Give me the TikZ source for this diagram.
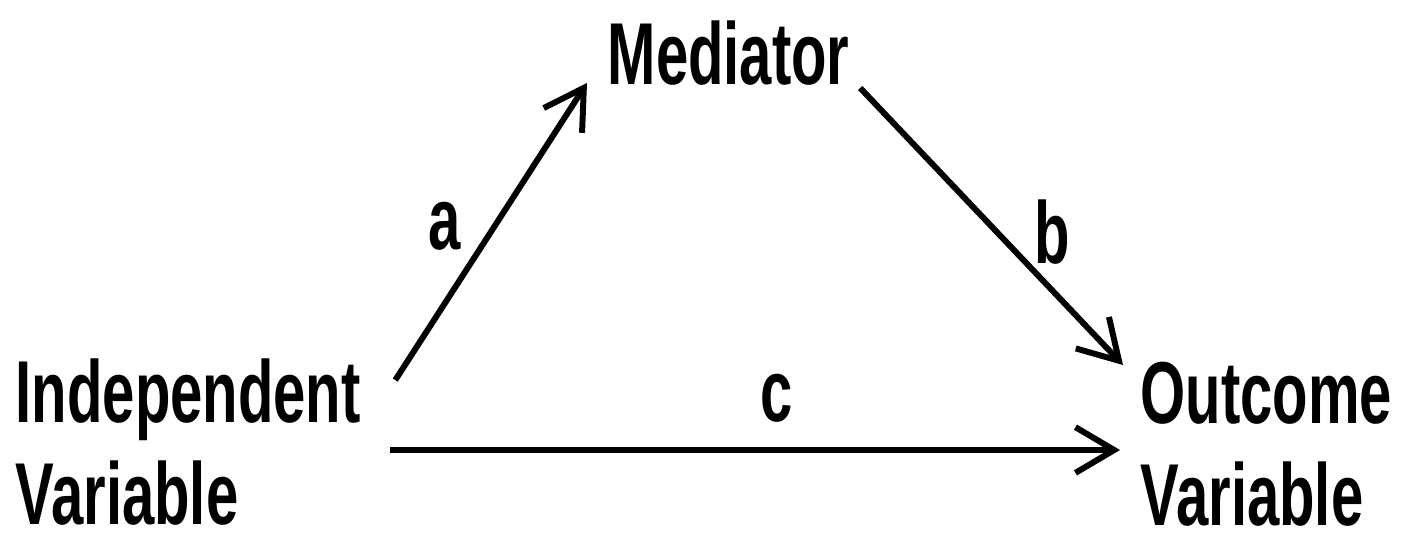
\documentclass[tikz,border=0pt]{standalone}
\usepackage{fontspec}
\newfontfamily\diagfont[FakeStretch=0.66]{Liberation Sans Bold}
\usetikzlibrary{arrows.meta,calc}

\begin{document}
\begin{tikzpicture}[x=0.01cm,y=-0.01cm,
    >={Straight Barb[length=11pt,width=13pt]},
    lbl/.style={font=\diagfont\fontsize{25}{29}\selectfont,inner sep=0pt,align=left},
    arr/.style={->,line width=1.7pt}]
  \useasboundingbox (0,0) rectangle (1404,538);
  \node[lbl,anchor=north west] (iv)  at (15,358)   {Independent\\Variable};
  \node[lbl,anchor=north west] (med) at (607,20)   {Mediator};
  \node[lbl,anchor=north west] (ov)  at (1140,361) {Outcome\\Variable};
  % paths a and b run through the mediator, c is the direct one
  \draw[arr] ($(iv.north east)+(34,22)$) -- ($(med.south west)+(-20,-3)$)
    node[lbl,midway,left=0.27cm,yshift=0.05cm] (la) {a};
  \draw[arr] ($(med.south east)+(10,2)$) -- ($(ov.north west)+(-17,4)$)
    node[lbl,midway,right=0.4cm,yshift=-0.06cm] (lb) {b};
  \draw[arr] ($(iv.north east)+(29,92)$) -- ($(ov.north west)+(-20,89)$)
    node[lbl,midway,above=0.25cm,xshift=0.21cm] (lc) {c};
\end{tikzpicture}
\end{document}
